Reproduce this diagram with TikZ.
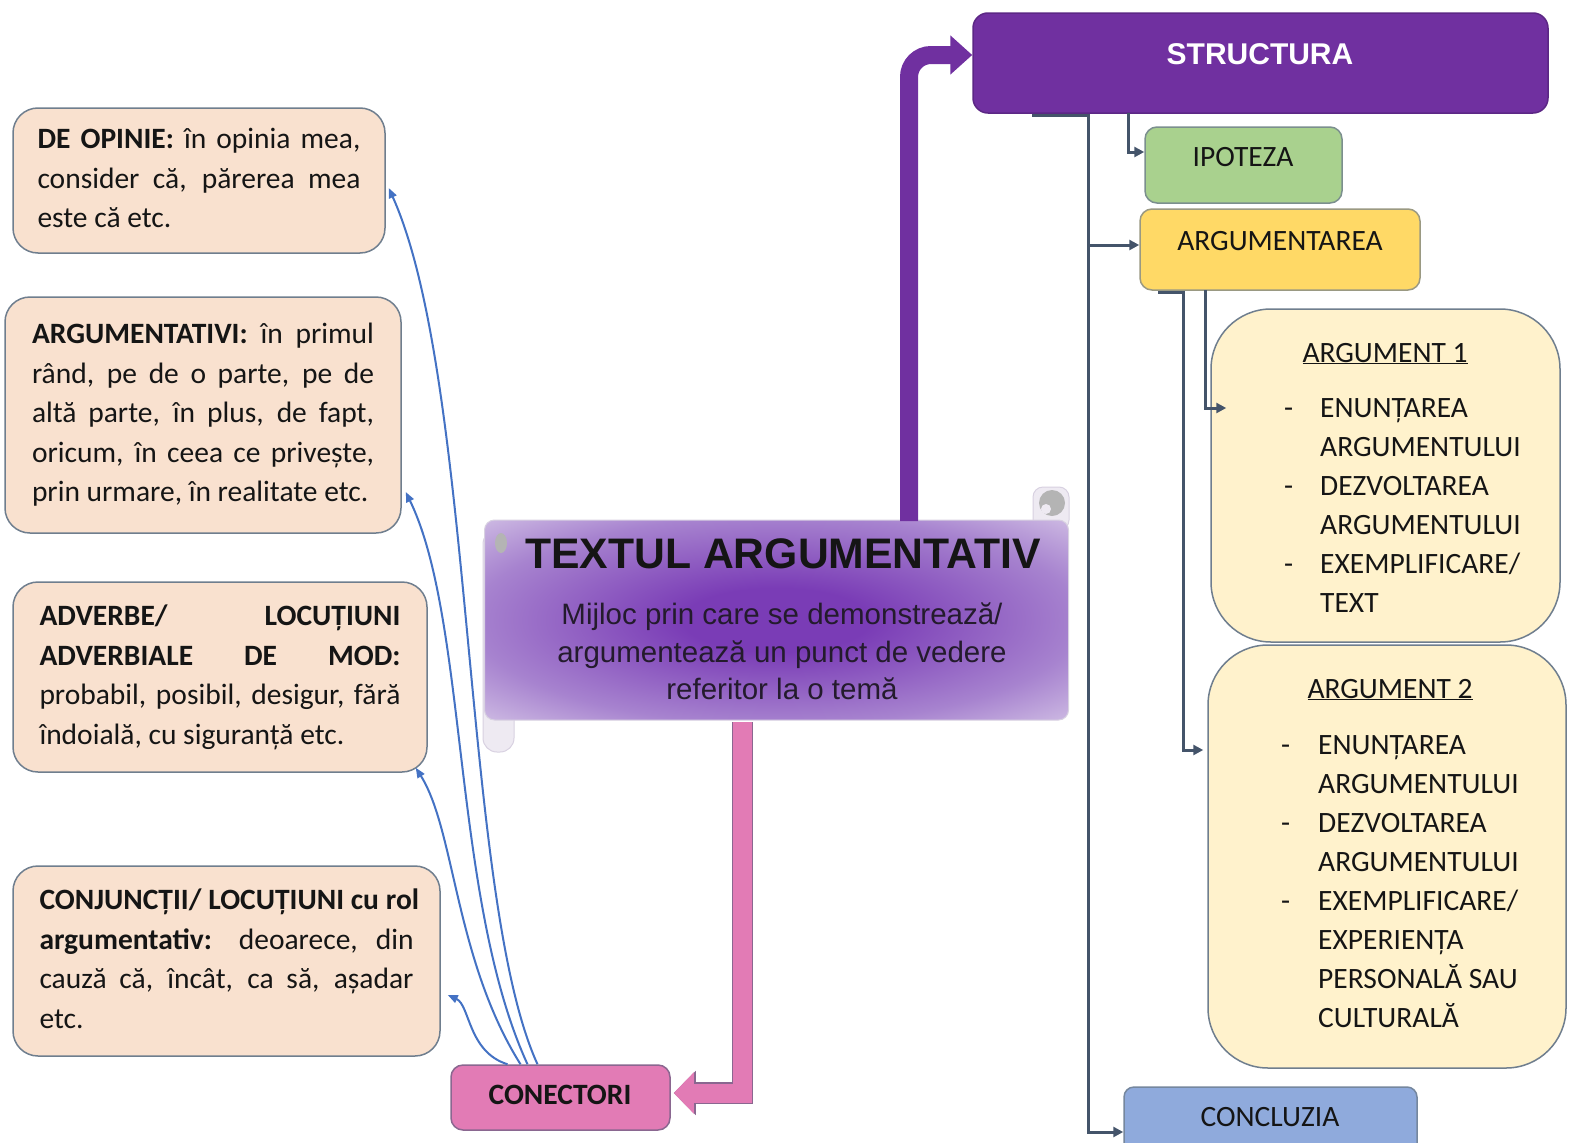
\documentclass[tikz,border=0pt]{standalone}
\usepackage{fontspec}
\setmainfont{Carlito}
\newfontfamily\arialf{Liberation Sans}
\usetikzlibrary{arrows.meta}
\definecolor{peach}{HTML}{F9E1CF}
\definecolor{boxedge}{HTML}{6F7E8E}
\definecolor{structc}{HTML}{7030A0}
\definecolor{structedge}{HTML}{5C2785}
\definecolor{ipotc}{HTML}{A9D18E}
\definecolor{argmc}{HTML}{FFD966}
\definecolor{argbox}{HTML}{FFF2CC}
\definecolor{conclc}{HTML}{8FAADC}
\definecolor{conectc}{HTML}{E27BB5}
\definecolor{pinkedge}{HTML}{8A6790}
\definecolor{darkc}{HTML}{44546A}
\definecolor{bluec}{HTML}{4472C4}
\definecolor{txt}{HTML}{151515}
\definecolor{scrA}{HTML}{7A3CB6}
\definecolor{scrB}{HTML}{A783CF}
\definecolor{scrC}{HTML}{EFEAF4}
\definecolor{curlc}{HTML}{EEEAF2}
\definecolor{curledge}{HTML}{D8D1E1}
\definecolor{curlgray}{HTML}{B4B4B4}
\pgfdeclareradialshading{scrollshade}{\pgfpoint{0bp}{0bp}}{color(0bp)=(scrA); color(8bp)=(scrA); color(26bp)=(scrB); color(44bp)=(scrC); color(50bp)=(scrC)}
\newcommand\jl[1]{\makebox[\hsize][s]{\spaceskip=0.23em plus 1fil\relax #1}}
\tikzset{
  lbox/.style={draw=boxedge, line width=1.5pt, fill=peach, rounded corners=25pt, inner ysep=0pt, align=justify, text=txt, font=\fontsize{29.5}{39.5}\selectfont},
  sbox/.style={draw=boxedge, line width=1.5pt, inner sep=0pt},
  lbl/.style={anchor=base, inner sep=0pt, text=txt, font=\fontsize{29.5}{34}\selectfont},
  listtxt/.style={anchor=north west, inner sep=0pt, align=left, text=txt, font=\fontsize{29.5}{39}\selectfont},
  darkconn/.style={draw=darkc, line width=3pt, -{Triangle[length=10pt,width=10pt]}},
  blueconn/.style={draw=bluec, line width=2pt, -{Triangle[length=10pt,width=8pt]}},
  fatpurple/.style={draw=structc, line width=18pt, rounded corners=22pt, -{Triangle[length=22pt,width=38pt]}},
  fatpink/.style={draw=conectc, line width=19pt, -{Triangle[length=20pt,width=40pt]},
    preaction={draw=pinkedge, line width=21.5pt, -{Triangle[length=22pt,width=43pt]}}},
}
\begin{document}
\begin{tikzpicture}[x=1pt,y=-1pt]
\useasboundingbox (0,0) rectangle (1569,1143);
\fill[white] (0,0) rectangle (1569,1143);

% ---------- scroll ----------
\draw[fill=curlc, draw=curledge, line width=1pt, rounded corners=14pt] (483,530) rectangle (514,752);
\draw[fill=curlc, draw=curledge, line width=1pt, rounded corners=10pt] (1033,487) rectangle (1069,530);
\node[shade, shading=scrollshade, draw=curledge, line width=1pt, rounded corners=10pt,
      minimum width=584pt, minimum height=200pt, inner sep=0pt] (scroll) at (776.5,620) {};
\fill[curlgray] (501,543) ellipse (6pt and 10pt);
\fill[curlgray] (1052,503) circle (13pt);
\fill[curlc] (1046,509) circle (5pt);
\node[anchor=base, inner sep=0pt, text=txt, font=\arialf\bfseries\fontsize{42.7}{48}\selectfont] (title) at (783,568) {TEXTUL ARGUMENTATIV};
\node[anchor=north, inner sep=0pt, align=center, text=txt!85!scrA, font=\arialf\fontsize{29.5}{37.5}\selectfont] (sub) at (782,598.5)
  {\strut Mijloc prin care se demonstrează/\\argumentează un punct de vedere\\referitor la o temă};

% ---------- left boxes ----------
\node[lbox, inner xsep=24.5pt, text width=323pt, minimum height=145pt] (opinie) at (199,180.5)
  {\jl{\strut\textbf{DE OPINIE:} în opinia mea,}\\
   \jl{consider că, părerea mea}\\
   este că etc.\strut};
\node[lbox, inner xsep=27pt, text width=342pt, minimum height=236pt] (argv) at (203,415)
  {\jl{\strut\textbf{ARGUMENTATIVI:} în primul}\\
   \jl{rând, pe de o parte, pe de}\\
   \jl{altă parte, în plus, de fapt,}\\
   \jl{oricum, în ceea ce privește,}\\
   prin urmare, în realitate etc.\strut};
\node[lbox, inner xsep=26.5pt, text width=361pt, minimum height=190pt] (adv) at (220,677)
  {\jl{\strut\textbf{ADVERBE/ LOCUȚIUNI}}\\
   \jl{\textbf{ADVERBIALE DE MOD:}}\\
   \jl{probabil, posibil, desigur, fără}\\
   îndoială, cu siguranță etc.\strut};
\node[lbox, inner xsep=26.5pt, text width=374pt, minimum height=190pt] (conj) at (226.5,961)
  {\jl{\strut\textbf{CONJUNCȚII/ LOCUȚIUNI cu rol}}\\
   \jl{\textbf{argumentativ:} deoarece, din}\\
   \jl{cauză că, încât, ca să, așadar}\\
   etc.\strut};

% ---------- conectori ----------
\node[sbox, draw=pinkedge, fill=conectc, rounded corners=12pt, minimum width=219pt, minimum height=65pt] (conectori) at (560.5,1097.5) {};
\node[lbl, font=\bfseries\fontsize{29.5}{34}\selectfont] at (560,1104) {CONECTORI};

% ---------- right side ----------
\node[sbox, draw=structedge, fill=structc, rounded corners=15pt, minimum width=575pt, minimum height=100pt] (structura) at (1260.5,63) {};
\node[anchor=base, inner sep=0pt, text=white, font=\arialf\bfseries\fontsize{30}{36}\selectfont] at (1260,64) {STRUCTURA};

\node[sbox, draw=boxedge!80!ipotc, fill=ipotc, rounded corners=12pt, minimum width=197pt, minimum height=76pt] (ipot) at (1243.5,165) {};
\node[lbl] at (1243,166) {IPOTEZA};

\node[sbox, draw=boxedge!70!argmc, fill=argmc, rounded corners=12pt, minimum width=280pt, minimum height=81pt] (argm) at (1280,249.5) {};
\node[lbl] at (1280,250) {ARGUMENTAREA};

\node[sbox, fill=argbox, rounded corners=60pt, minimum width=349pt, minimum height=333pt] (arg1) at (1385.5,475.5) {};
\node[lbl] at (1385,362) {\underline{ARGUMENT 1}};
\node[listtxt] at (1284,389.7)
  {\makebox[36pt][l]{-}\strut ENUNȚAREA\\
   \hspace*{36pt}ARGUMENTULUI\\
   \makebox[36pt][l]{-}DEZVOLTAREA\\
   \hspace*{36pt}ARGUMENTULUI\\
   \makebox[36pt][l]{-}EXEMPLIFICARE/\\
   \hspace*{36pt}TEXT};

\node[sbox, fill=argbox, rounded corners=60pt, minimum width=358pt, minimum height=423pt] (arg2) at (1387,856.5) {};
\node[lbl] at (1390,698) {\underline{ARGUMENT 2}};
\node[listtxt] at (1281,726.7)
  {\makebox[37pt][l]{-}\strut ENUNȚAREA\\
   \hspace*{37pt}ARGUMENTULUI\\
   \makebox[37pt][l]{-}DEZVOLTAREA\\
   \hspace*{37pt}ARGUMENTULUI\\
   \makebox[37pt][l]{-}EXEMPLIFICARE/\\
   \hspace*{37pt}EXPERIENȚA\\
   \hspace*{37pt}PERSONALĂ SAU\\
   \hspace*{37pt}CULTURALĂ};

\node[sbox, draw=boxedge!80!conclc, fill=conclc, rounded corners=10pt, minimum width=293pt, minimum height=68pt] (concl) at (1270.5,1121) {};
\node[lbl] at (1270,1126) {CONCLUZIA};

% ---------- fat arrows ----------
\draw[fatpurple] (909,521) |- ([yshift=8pt]structura.west);
\draw[fatpink] (742.5,722) |- ([xshift=3pt,yshift=4.5pt]conectori.east);

% ---------- dark connectors ----------
\coordinate (t1) at (1032,115);
\coordinate (t1b) at (1088,115);
\coordinate (cb) at (1088,1132);
\coordinate (ab) at (1088,245);
\coordinate (t2) at (1128,113);
\coordinate (ib) at (1128,152);
\coordinate (t3) at (1158,292);
\coordinate (t3b) at (1183,292);
\coordinate (a2b) at (1183,750);
\coordinate (t4) at (1205,290);
\coordinate (a1b) at (1205,408);
\path (a1b -| arg1.west) ++(16,0) coordinate (a1e);
\path (a2b -| arg2.west) ++(-4,0) coordinate (a2e);
\draw[darkconn] (t1) -- (t1b) -- (cb) -- (cb -| concl.west);
\draw[darkconn] (ab) -- (ab -| argm.west);
\draw[darkconn] (t2) -- (ib) -- (ib -| ipot.west);
\draw[darkconn] (t3) -- (t3b) -- (a2b) -- (a2e);
\draw[darkconn] (t4) -- (a1b) -- (a1e);

% ---------- blue curves ----------
\draw[blueconn] ([xshift=-23pt]conectori.north) .. controls (462,900) and (475,380) .. ([xshift=3pt,yshift=-7.5pt]opinie.east);
\draw[blueconn] ([xshift=-33pt]conectori.north) .. controls (452,900) and (468,620) .. ([xshift=4pt,yshift=-77pt]argv.east);
\draw[blueconn] ([xshift=-40pt]conectori.north) .. controls (455,960) and (455,830) .. ([xshift=-12pt,yshift=5pt]adv.south east);
\draw[blueconn] ([xshift=-53pt]conectori.north) .. controls (468,1052) and (470,1005) .. ([xshift=7pt,yshift=-34pt]conj.east);
\end{tikzpicture}
\end{document}
